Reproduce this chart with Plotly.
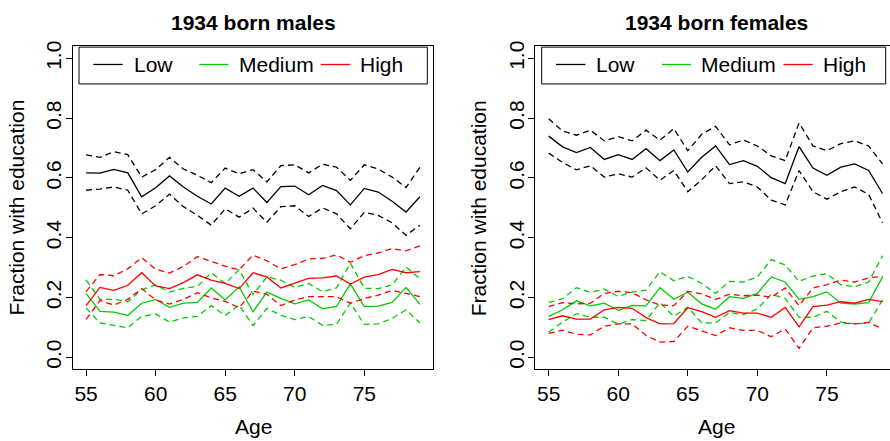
import plotly.graph_objects as go

ages = list(range(55, 80))

# 1934 born males
male_low = [0.617,0.616,0.629,0.617,0.537,0.567,0.607,0.570,0.539,0.513,0.566,0.539,0.566,0.518,0.571,0.573,0.544,0.575,0.558,0.510,0.565,0.553,0.522,0.486,0.537]
male_low_hi = [0.677,0.669,0.688,0.678,0.603,0.628,0.669,0.630,0.609,0.584,0.633,0.614,0.628,0.587,0.641,0.644,0.617,0.646,0.636,0.592,0.644,0.630,0.603,0.568,0.636]
male_low_lo = [0.559,0.563,0.570,0.559,0.480,0.507,0.546,0.504,0.475,0.442,0.497,0.469,0.499,0.452,0.504,0.507,0.471,0.500,0.480,0.430,0.485,0.475,0.450,0.408,0.442]
male_med = [0.214,0.154,0.151,0.140,0.181,0.194,0.167,0.181,0.184,0.232,0.192,0.236,0.152,0.218,0.197,0.179,0.192,0.162,0.170,0.246,0.170,0.171,0.184,0.234,0.177]
male_med_hi = [0.259,0.194,0.194,0.186,0.226,0.242,0.218,0.231,0.237,0.283,0.247,0.293,0.210,0.269,0.258,0.234,0.247,0.220,0.232,0.315,0.231,0.230,0.242,0.302,0.263]
male_med_lo = [0.165,0.115,0.107,0.099,0.137,0.145,0.118,0.132,0.137,0.173,0.140,0.175,0.106,0.164,0.141,0.126,0.137,0.107,0.110,0.182,0.110,0.112,0.130,0.159,0.115]
male_high = [0.173,0.234,0.224,0.241,0.283,0.239,0.230,0.250,0.276,0.258,0.247,0.230,0.283,0.269,0.232,0.249,0.264,0.266,0.272,0.245,0.268,0.277,0.294,0.283,0.287]
male_high_hi = [0.220,0.277,0.273,0.296,0.333,0.295,0.282,0.304,0.337,0.321,0.305,0.293,0.342,0.323,0.296,0.310,0.329,0.331,0.343,0.318,0.340,0.349,0.364,0.356,0.373]
male_high_lo = [0.127,0.190,0.175,0.194,0.230,0.192,0.178,0.194,0.216,0.199,0.187,0.166,0.221,0.211,0.173,0.192,0.203,0.203,0.203,0.181,0.197,0.208,0.224,0.214,0.203]

# 1934 born females
fem_low = [0.740,0.704,0.685,0.702,0.662,0.678,0.662,0.698,0.658,0.694,0.620,0.669,0.707,0.645,0.658,0.639,0.601,0.581,0.705,0.633,0.609,0.636,0.647,0.625,0.548]
fem_low_hi = [0.798,0.757,0.743,0.760,0.724,0.738,0.724,0.760,0.726,0.765,0.691,0.746,0.773,0.711,0.727,0.707,0.674,0.658,0.784,0.707,0.691,0.715,0.724,0.707,0.647]
fem_low_lo = [0.683,0.652,0.627,0.641,0.603,0.614,0.603,0.634,0.592,0.625,0.554,0.594,0.641,0.581,0.587,0.570,0.526,0.510,0.625,0.554,0.529,0.554,0.570,0.545,0.450]
fem_med = [0.137,0.159,0.189,0.172,0.181,0.157,0.174,0.172,0.233,0.194,0.218,0.179,0.161,0.203,0.197,0.214,0.269,0.252,0.194,0.203,0.219,0.181,0.178,0.183,0.269]
fem_med_hi = [0.184,0.196,0.233,0.217,0.228,0.204,0.218,0.225,0.286,0.256,0.271,0.247,0.214,0.254,0.252,0.269,0.327,0.309,0.254,0.272,0.280,0.243,0.236,0.252,0.340]
fem_med_lo = [0.084,0.118,0.146,0.134,0.134,0.111,0.126,0.123,0.183,0.137,0.168,0.115,0.115,0.150,0.143,0.162,0.211,0.197,0.134,0.134,0.154,0.118,0.112,0.115,0.192]
fem_high = [0.126,0.139,0.128,0.128,0.159,0.167,0.164,0.133,0.112,0.113,0.166,0.153,0.134,0.156,0.148,0.148,0.134,0.167,0.102,0.170,0.175,0.186,0.181,0.194,0.186]
fem_high_hi = [0.170,0.183,0.179,0.181,0.214,0.221,0.216,0.192,0.175,0.173,0.221,0.212,0.194,0.211,0.206,0.208,0.201,0.232,0.173,0.232,0.243,0.258,0.252,0.266,0.271]
fem_high_lo = [0.080,0.091,0.077,0.075,0.104,0.112,0.112,0.073,0.051,0.053,0.104,0.088,0.073,0.099,0.090,0.090,0.069,0.095,0.030,0.099,0.104,0.115,0.112,0.117,0.095]

titles = ["1934 born males", "1934 born females"]
legend_labels = ["Low", "Medium", "High"]
colors = ["#000000", "#00CD00", "#FF0000"]
y_ticks = [0.0, 0.2, 0.4, 0.6, 0.8, 1.0]
y_ticktext = ["0.0", "0.2", "0.4", "0.6", "0.8", "1.0"]
x_ticks = [55, 60, 65, 70, 75]

W, H = 890, 441
FONT = "Liberation Sans, Arial, Helvetica, sans-serif"
FS = 21

def px(x):
    return x / W

def py(y):
    return 1 - y / H

fig = go.Figure()

panels = [
    ("x", "y", [(male_low, male_low_lo, male_low_hi), (male_med, male_med_lo, male_med_hi), (male_high, male_high_lo, male_high_hi)]),
    ("x2", "y2", [(fem_low, fem_low_lo, fem_low_hi), (fem_med, fem_med_lo, fem_med_hi), (fem_high, fem_high_lo, fem_high_hi)]),
]
for xa, ya, groups in panels:
    for (est, lo, hi), col in zip(groups, colors):
        for series, dash in ((lo, "6px,4px"), (hi, "6px,4px"), (est, "solid")):
            fig.add_trace(go.Scatter(x=ages, y=series, mode="lines", xaxis=xa, yaxis=ya,
                                     line=dict(color=col, width=1.3, dash=dash),
                                     showlegend=False, hoverinfo="skip"))

# plot boxes in pixels
left_box = (72.7, 433.3)
right_left = 535.3
top_px, bot_px = 41.0, 368.3
ppy = (left_box[1] - left_box[0]) / 25.92  # px per year
x_lo = 54.04
x2_hi = x_lo + (W - right_left) / ppy

ax_common = dict(ticks="outside", ticklen=6, tickwidth=1, tickcolor="black",
                 showline=True, linecolor="black", linewidth=1, showgrid=False,
                 zeroline=False, tickfont=dict(family=FONT, size=FS, color="black"))

fig.update_layout(
    width=W, height=H, autosize=False,
    margin=dict(l=0, r=0, t=0, b=0),
    paper_bgcolor="white", plot_bgcolor="white",
    showlegend=False,
    xaxis=dict(domain=[px(left_box[0]), px(left_box[1])], range=[x_lo, 79.96],
               tickvals=x_ticks, mirror=True, anchor="y", ticklabelstandoff=0, **ax_common),
    yaxis=dict(domain=[py(bot_px), py(top_px)], range=[-0.04, 1.04],
               tickvals=y_ticks, ticktext=y_ticktext, tickangle=-90, mirror=True,
               anchor="x", ticklabelstandoff=-4, **ax_common),
    xaxis2=dict(domain=[px(right_left), 1.0], range=[x_lo, x2_hi],
                tickvals=x_ticks, mirror=True, anchor="y2", ticklabelstandoff=0, **ax_common),
    yaxis2=dict(domain=[py(bot_px), py(top_px)], range=[-0.04, 1.04],
                tickvals=y_ticks, ticktext=y_ticktext, tickangle=-90, mirror=False,
                anchor="x2", ticklabelstandoff=-4, **ax_common),
)

annotations = []
shapes = []
panel_geo = [
    dict(center=253.0, ytitle_x=16.7, leg_left=79.0, leg_right=427.3),
    dict(center=716.0, ytitle_x=479.3, leg_left=541.7, leg_right=885.7),
]
for title, g in zip(titles, panel_geo):
    annotations.append(dict(text="<b>%s</b>" % title, x=px(g["center"]), y=py(16.5), xref="paper", yref="paper",
                            xanchor="center", yanchor="middle", showarrow=False,
                            font=dict(family=FONT, size=FS, color="black")))
    annotations.append(dict(text="Age", x=px(g["center"]), y=py(426), xref="paper", yref="paper",
                            xanchor="center", yanchor="middle", showarrow=False,
                            font=dict(family=FONT, size=FS, color="black")))
    annotations.append(dict(text="Fraction with education", x=px(g["ytitle_x"]), y=py(204.7),
                            xref="paper", yref="paper", xanchor="center", yanchor="middle",
                            textangle=-90, showarrow=False,
                            font=dict(family=FONT, size=FS, color="black")))
    # legend box
    L = g["leg_left"]
    shapes.append(dict(type="rect", xref="paper", yref="paper", x0=px(L), x1=px(g["leg_right"]),
                       y0=py(79.0), y1=py(41.7), line=dict(color="black", width=1),
                       fillcolor="white", layer="above"))
    offsets = [(14.3, 43.7, 52.7), (120.3, 149.3, 157.7), (241.7, 271.0, 279.3)]
    for lab, col, (l0, l1, t0) in zip(legend_labels, colors, offsets):
        shapes.append(dict(type="line", xref="paper", yref="paper", x0=px(L + l0), x1=px(L + l1),
                           y0=py(59.3), y1=py(59.3), line=dict(color=col, width=1.3), layer="above"))
        annotations.append(dict(text=lab, x=px(L + t0), y=py(59.3), xref="paper", yref="paper",
                                xanchor="left", yanchor="middle", showarrow=False,
                                font=dict(family=FONT, size=FS, color="black")))

fig.update_layout(annotations=annotations, shapes=shapes)
fig.write_html("out.html")
